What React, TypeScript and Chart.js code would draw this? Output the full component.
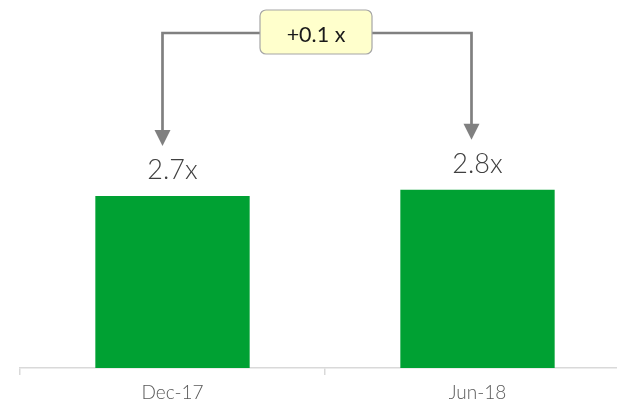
import React, { useEffect, useRef } from "react";
import { Chart, registerables } from "chart.js";

Chart.register(...registerables);

const categories = ["Dec-17", "Jun-18"];
const values = [2.7, 2.8];
const valueLabels = ["2.7x", "2.8x"];
const deltaLabel = "+0.1 x";

const FONT = "Lato, 'Open Sans', sans-serif";

const annotPlugin = {
  id: "annot",
  afterDatasetsDraw(chart: any) {
    const ctx = chart.ctx;
    const meta = chart.getDatasetMeta(0);
    const bars = meta.data;
    ctx.save();
    // value labels
    ctx.fillStyle = "#404040";
    ctx.font = `300 27px ${FONT}`;
    ctx.textAlign = "center";
    ctx.textBaseline = "alphabetic";
    bars.forEach((b: any, i: number) => {
      ctx.fillText(valueLabels[i], b.x, b.y - 17);
    });
    // bracket
    const lineY = 33;
    const xL = bars[0].x - 10;
    const xR = bars[1].x - 6;
    const tipL = bars[0].y - 50;
    const tipR = bars[1].y - 50;
    const ah = 16;
    const aw = 8;
    ctx.strokeStyle = "#808080";
    ctx.lineWidth = 2.7;
    ctx.beginPath();
    ctx.moveTo(xL, tipL - ah + 1);
    ctx.lineTo(xL, lineY);
    ctx.lineTo(xR, lineY);
    ctx.lineTo(xR, tipR - ah + 1);
    ctx.stroke();
    ctx.fillStyle = "#808080";
    [[xL, tipL], [xR, tipR]].forEach(([x, t]) => {
      ctx.beginPath();
      ctx.moveTo(x - aw, t - ah);
      ctx.lineTo(x + aw, t - ah);
      ctx.lineTo(x, t);
      ctx.closePath();
      ctx.fill();
    });
    // box
    const bx = 260, by = 10, bw = 112, bh = 44, r = 6;
    ctx.beginPath();
    ctx.roundRect(bx, by, bw, bh, r);
    ctx.fillStyle = "#FFFFCC";
    ctx.fill();
    ctx.strokeStyle = "#A6A6A6";
    ctx.lineWidth = 1.2;
    ctx.stroke();
    ctx.fillStyle = "#1A1A1A";
    ctx.font = `21.5px ${FONT}`;
    ctx.textAlign = "center";
    ctx.textBaseline = "alphabetic";
    ctx.fillText(deltaLabel, bx + bw / 2, 42.3);
    ctx.restore();
  },
};

export default function App() {
  const ref = useRef<HTMLCanvasElement>(null);
  useEffect(() => {
    if (!ref.current) return;
    const chart = new Chart(ref.current, {
      type: "bar",
      data: {
        labels: categories,
        datasets: [
          {
            data: values,
            backgroundColor: "#00A133",
            categoryPercentage: 1,
            barPercentage: 0.506,
          },
        ],
      },
      options: {
        animation: false,
        responsive: false,
        maintainAspectRatio: false,
        layout: { padding: { left: 20, right: 10, top: 0, bottom: 0 } },
        plugins: { legend: { display: false }, tooltip: { enabled: false } },
        scales: {
          x: {
            grid: {
              drawOnChartArea: false,
              drawTicks: true,
              tickLength: 7,
              color: "#D9D9D9",
              lineWidth: 1.5,
            },
            border: { color: "#D9D9D9", width: 1.5 },
            ticks: {
              color: "#595959",
              font: { family: FONT, size: 19, weight: "300" },
              padding: 6,
            },
            afterFit: (s: any) => {
              s.height = 34;
            },
          },
          y: {
            display: false,
            min: 0,
            max: 5.78,
          },
        },
      },
      plugins: [annotPlugin],
    });
    return () => chart.destroy();
  }, []);
  return (
    <div
      style={{
        position: "absolute",
        left: 0,
        top: 0,
        width: 617,
        height: 402,
        overflow: "hidden",
        background: "#fff",
      }}
    >
      <canvas ref={ref} width={640} height={402} style={{ display: "block" }} />
    </div>
  );
}
